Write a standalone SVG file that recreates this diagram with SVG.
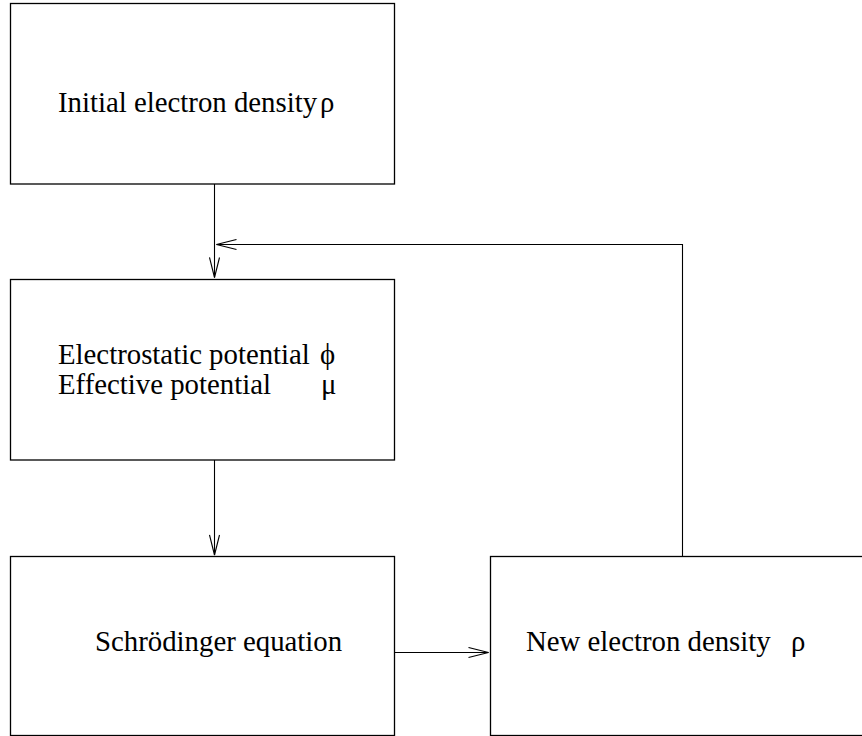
<svg xmlns="http://www.w3.org/2000/svg" width="862" height="736" viewBox="0 0 862 736">
  <style>
    .box { fill: #ffffff; stroke: #000000; stroke-width: 1.3; }
    .lbl { font-family: "Liberation Serif", "Times New Roman", serif; font-size: 28.8px; fill: #000000; }
    .conn { fill: none; stroke: #000000; stroke-width: 1.1; }
  </style>
  <defs>
    <marker id="open" viewBox="-21 -6 22 12" refX="0" refY="0" markerWidth="22" markerHeight="12" markerUnits="userSpaceOnUse" orient="auto">
      <path d="M-20,-5 L0,0 L-20,5" fill="none" stroke="#000000" stroke-width="1.1"/>
    </marker>
  </defs>
  <rect x="0" y="0" width="862" height="736" fill="#ffffff"/>

  <g id="node-initial">
    <rect class="box" x="10.5" y="3.5" width="384" height="180.5"/>
    <text class="lbl" x="58" y="112">Initial electron density</text>
    <text class="lbl" x="320" y="112">ρ</text>
  </g>

  <g id="node-potential">
    <rect class="box" x="10.5" y="279.5" width="384" height="180.5"/>
    <text class="lbl" x="58" y="364">Electrostatic potential</text>
    <text class="lbl" x="320" y="364">ϕ</text>
    <text class="lbl" x="58" y="394">Effective potential</text>
    <text class="lbl" x="321" y="394">μ</text>
  </g>

  <g id="node-schrodinger">
    <rect class="box" x="10.5" y="556.5" width="384" height="179"/>
    <text class="lbl" x="95" y="651">Schrödinger equation</text>
  </g>

  <g id="node-new">
    <rect class="box" x="490.5" y="556.5" width="400" height="179"/>
    <text class="lbl" x="526" y="651">New electron density</text>
    <text class="lbl" x="791" y="651">ρ</text>
  </g>

  <g id="connectors">
    <line class="conn" x1="214.5" y1="184" x2="214.5" y2="277.5" marker-end="url(#open)"/>
    <line class="conn" x1="214.5" y1="460" x2="214.5" y2="555" marker-end="url(#open)"/>
    <line class="conn" x1="394.5" y1="652.5" x2="488.5" y2="652.5" marker-end="url(#open)"/>
    <path class="conn" d="M682.5,556.5 V244.5 H216.5" marker-end="url(#open)"/>
  </g>
</svg>
